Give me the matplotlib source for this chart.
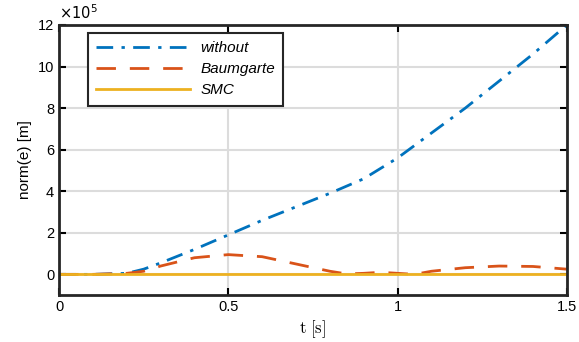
import numpy as np
import matplotlib
matplotlib.use('Agg')
import matplotlib.pyplot as plt

plt.rcParams['font.family'] = ['Liberation Sans', 'DejaVu Sans']
plt.rcParams['mathtext.fontset'] = 'cm'

# datos (unidades ×10^5)
t_without = [0, 0.1, 0.2, 0.25, 0.3, 0.4, 0.5, 0.6, 0.7, 0.8, 0.9, 1.0, 1.1, 1.2, 1.3, 1.4, 1.5]
e_without = [0, 0.0, 0.05, 0.25, 0.55, 1.2, 1.9, 2.6, 3.25, 3.9, 4.6, 5.6, 6.8, 8.0, 9.3, 10.6, 12.0]

t_baum = [0, 0.1, 0.2, 0.25, 0.3, 0.4, 0.5, 0.6, 0.7, 0.8, 0.85, 0.9, 0.95, 1.0, 1.05, 1.1, 1.2, 1.3, 1.4, 1.5]
e_baum = [0, 0.0, 0.05, 0.15, 0.4, 0.8, 0.95, 0.85, 0.5, 0.15, 0.02, 0.05, 0.1, 0.05, 0.0, 0.15, 0.32, 0.4, 0.38, 0.25]

t_smc = [0, 1.5]
e_smc = [0, 0]

fig, ax = plt.subplots(figsize=(5.79, 3.42), dpi=100)
fig.subplots_adjust(left=0.102, right=0.979, top=0.927, bottom=0.137)

ax.plot(t_without, e_without, color='#0072BD', lw=2, ls=(0, (6, 3, 1.2, 3)), label='without')
ax.plot(t_baum, e_baum, color='#D95319', lw=2, ls=(0, (7, 5)), label='Baumgarte')
ax.plot(t_smc, e_smc, color='#EDB120', lw=2, ls='-', label='SMC')

ax.set_xlim(0, 1.5)
ax.set_ylim(-1, 12)
ax.set_xticks([0, 0.5, 1, 1.5])
ax.set_xticklabels(['0', '0.5', '1', '1.5'])
ax.set_yticks(range(0, 13, 2))
ax.grid(True, color='#dcdcdc', lw=1.5)
ax.set_axisbelow(True)
ax.tick_params(direction='in', top=True, right=True, length=5, width=1.5, labelsize=10.5)
for sp in ax.spines.values():
    sp.set_linewidth(2)
    sp.set_color('#262626')

ax.set_xlabel(r'$\mathrm{t\ [s]}$', fontsize=12, labelpad=3)
ax.set_ylabel('norm(e) [m]', fontsize=11)
ax.text(0.0, 1.01, r'$\times10^{5}$', transform=ax.transAxes, fontsize=10.5,
        ha='left', va='bottom', family='DejaVu Sans')
ax.texts[-1].set_math_fontfamily('dejavusans')

leg = ax.legend(loc='upper left', bbox_to_anchor=(0.057, 0.97), borderaxespad=0,
                prop={'style': 'italic', 'size': 11}, fancybox=False, framealpha=1,
                edgecolor='#262626', handlelength=6.1, borderpad=0.55, labelspacing=0.45,
                handletextpad=0.7)
leg.get_frame().set_linewidth(1.5)

fig.savefig('out.png', dpi=100)
